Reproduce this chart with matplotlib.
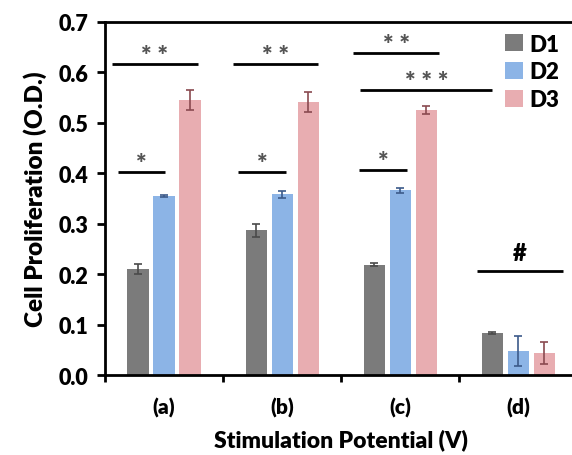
import matplotlib
matplotlib.use('Agg')
import matplotlib.pyplot as plt
import numpy as np

plt.rcParams['font.family'] = ['Lato', 'DejaVu Sans']
plt.rcParams['font.weight'] = 'heavy'

# ---- data ----
groups = ['(a)', '(b)', '(c)', '(d)']
series = ['D1', 'D2', 'D3']
d1 = [0.210, 0.287, 0.219, 0.083]
d2 = [0.355, 0.358, 0.366, 0.048]
d3 = [0.545, 0.541, 0.526, 0.044]
d1_err = [0.010, 0.013, 0.003, 0.002]
d2_err = [0.002, 0.007, 0.005, 0.030]
d3_err = [0.020, 0.020, 0.008, 0.022]

# significance marks: (x start, x end, y, label)
sig_x0 = [-0.39, -0.445, 0.63, 0.58, 1.65, 1.60, 1.66, 2.65]
sig_x1 = [0.01, 0.284, 1.03, 1.30, 2.055, 2.33, 2.78, 3.38]
sig_y = [0.403, 0.617, 0.403, 0.617, 0.407, 0.638, 0.566, 0.206]
sig_txt = ['*', '* *', '*', '* *', '*', '* *', '* * *', '#']

colors = ['#7b7b7b', '#8cb4e6', '#e8adb1']
err_colors = ['#4a4a4a', '#3c5a8a', '#8a4a50']

fig = plt.figure(figsize=(5.72, 4.56), dpi=100)
ax = fig.add_axes([0.1836, 0.1754, 0.826, 0.7742])

x = np.arange(len(groups))
width = 0.18
offsets = [-0.22, 0.0, 0.22]
for vals, errs, c, ec, off, name in zip([d1, d2, d3], [d1_err, d2_err, d3_err],
                                        colors, err_colors, offsets, series):
    ax.bar(x + off, vals, width, color=c, label=name, zorder=2)
    ax.errorbar(x + off, vals, yerr=errs, fmt='none', ecolor=ec,
                elinewidth=1.2, capsize=3, capthick=1.2, zorder=3)

for x0, x1, y, t in zip(sig_x0, sig_x1, sig_y, sig_txt):
    ax.plot([x0, x1], [y, y], color='black', lw=2, solid_capstyle='butt', zorder=4)
    if t == '#':
        ax.text((x0 + x1) / 2, y + 0.014, t, ha='center', va='bottom',
                fontsize=17, fontweight='heavy', color='black')
    else:
        ax.text((x0 + x1) / 2, y - 0.004, t, ha='center', va='bottom',
                fontsize=18, fontweight='heavy', color='#555555')

ax.set_xlim(-0.5, 3.5)
ax.set_ylim(0, 0.7)
ax.set_yticks(np.arange(0, 0.71, 0.1))
ax.set_yticklabels([f'{v:.1f}' for v in np.arange(0, 0.71, 0.1)])
ax.set_xticks(x)
ax.set_xticklabels(groups)
ax.set_xticks([-0.5, 0.5, 1.5, 2.5], minor=True)
ax.tick_params(axis='x', which='major', length=0, pad=16, labelsize=15)
ax.tick_params(axis='x', which='minor', length=5, width=2, direction='out')
ax.tick_params(axis='y', length=6, width=2, direction='out', labelsize=15.5, pad=6)
for lab in ax.get_xticklabels() + ax.get_yticklabels():
    lab.set_fontweight('heavy')

for s in ['left', 'bottom', 'top']:
    ax.spines[s].set_linewidth(2)
ax.spines['right'].set_visible(False)

ax.set_ylabel('Cell Proliferation (O.D.)', fontsize=17.5, fontweight='heavy', labelpad=8)
ax.set_xlabel('Stimulation Potential (V)', fontsize=16.5, fontweight='heavy', labelpad=8)

leg = ax.legend(loc='upper right', bbox_to_anchor=(0.99, 1.005), frameon=False,
                fontsize=16, handlelength=0.8, handleheight=0.8, handletextpad=0.3,
                labelspacing=0.3, borderaxespad=0.2)
for t in leg.get_texts():
    t.set_fontweight('heavy')

fig.savefig('out.png', dpi=100)
